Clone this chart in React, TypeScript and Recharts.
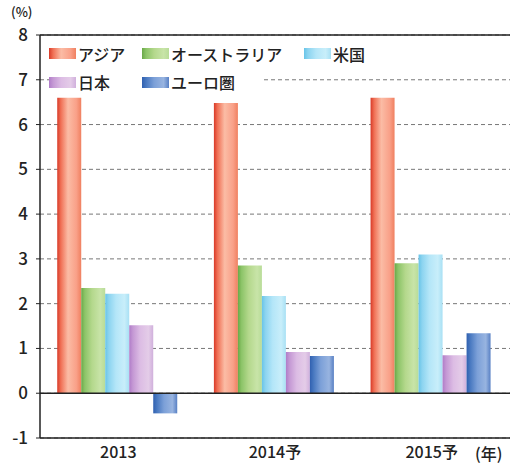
import React from "react";
import { BarChart, Bar, XAxis, YAxis, CartesianGrid, ReferenceLine } from "recharts";

const categories = ["2013", "2014予", "2015予"];
const asia = [6.6, 6.48, 6.6];
const australia = [2.35, 2.85, 2.9];
const us = [2.22, 2.17, 3.1];
const japan = [1.52, 0.92, 0.85];
const euro = [-0.45, 0.83, 1.34];
const yTicks = [-1, 0, 1, 2, 3, 4, 5, 6, 7, 8];

const series = [
  { key: "asia", name: "アジア", stops: ["#d83a28", "#f07055", "#fbbca5", "#f9a088", "#f08060"] },
  { key: "australia", name: "オーストラリア", stops: ["#6aa848", "#8cc468", "#b4d88c", "#c8e4a8", "#b8dc98"] },
  { key: "us", name: "米国", stops: ["#68c4e8", "#8cd4f0", "#b4e6f8", "#c8eefa", "#a8e0f4"] },
  { key: "japan", name: "日本", stops: ["#b07cc8", "#c498d4", "#dcbce4", "#e4cce8", "#d0b0dc"] },
  { key: "euro", name: "ユーロ圏", stops: ["#3060b0", "#4878c0", "#7ca0d8", "#98b4e0", "#5880c4"] },
];

const data = categories.map((c, i) => ({
  cat: c,
  asia: asia[i],
  australia: australia[i],
  us: us[i],
  japan: japan[i],
  euro: euro[i],
}));

const FONT = "'Noto Sans CJK JP', 'Noto Sans', sans-serif";

const Swatch = ({ id }: { id: string }) => (
  <svg width={27} height={11} style={{ verticalAlign: "middle" }}>
    <rect x={0} y={0} width={27} height={11} fill={`url(#g-${id})`} />
  </svg>
);

const LegendBox = () => {
  const item = (s: any, w: number) => (
    <span key={s.key} style={{ display: "inline-block", width: w, whiteSpace: "nowrap" }}>
      <Swatch id={s.key} />
      <span style={{ marginLeft: 2, verticalAlign: "middle" }}>{s.name}</span>
    </span>
  );
  return (
    <div style={{ position: "absolute", left: 49, top: 38, fontFamily: FONT, fontSize: 16, fontWeight: 500, color: "#222", lineHeight: "26px" }}>
      <div style={{ background: "#fff", display: "inline-block", whiteSpace: "nowrap" }}>
        {item(series[0], 93)}
        {item(series[1], 162)}
        {item(series[2], 70)}
      </div>
      <br />
      <div style={{ background: "#fff", display: "inline-block", width: 212, whiteSpace: "nowrap" }}>
        {item(series[3], 93)}
        {item(series[4], 110)}
      </div>
    </div>
  );
};

export default function App() {
  return (
    <div style={{ position: "fixed", left: 0, top: 0, width: 510, height: 467, background: "#fff", fontFamily: FONT }}>
      <BarChart
        width={510}
        height={467}
        data={data}
        margin={{ top: 35, right: 0, bottom: 0, left: 0 }}
        barCategoryGap="11%"
        barGap={0}
      >
        <defs>
          {series.map((s) => (
            <linearGradient key={s.key} id={`g-${s.key}`} x1="0" y1="0" x2="1" y2="0">
              <stop offset="0%" stopColor={s.stops[0]} />
              <stop offset="15%" stopColor={s.stops[1]} />
              <stop offset="45%" stopColor={s.stops[2]} />
              <stop offset="80%" stopColor={s.stops[3]} />
              <stop offset="100%" stopColor={s.stops[4]} />
            </linearGradient>
          ))}
        </defs>
        <CartesianGrid vertical={false} stroke="#777" strokeDasharray="4 3" />
        <XAxis
          dataKey="cat"
          height={29}
          tickLine={false}
          axisLine={{ stroke: "#222", strokeWidth: 1.5 }}
          tick={{ fill: "#222", fontSize: 16, fontWeight: 500, fontFamily: FONT }}
          tickMargin={3}
        />
        <YAxis
          width={40}
          domain={[-1, 8]}
          ticks={yTicks}
          interval={0}
          allowDataOverflow
          axisLine={{ stroke: "#222", strokeWidth: 1.5 }}
          tickLine={{ stroke: "#222" }}
          tickSize={4}
          tickMargin={8}
          tick={{ fill: "#222", fontSize: 17, fontWeight: 500, fontFamily: FONT }}
        />
        <ReferenceLine y={8} stroke="#222" strokeWidth={1.5} />
        <ReferenceLine y={0} stroke="#222" strokeWidth={1.5} />
        {series.map((s) => (
          <Bar key={s.key} dataKey={s.key} name={s.name} fill={`url(#g-${s.key})`} isAnimationActive={false} />
        ))}
      </BarChart>
      <div style={{ position: "absolute", left: 11, top: 4, fontSize: 13, lineHeight: "16px", fontWeight: 500, color: "#222" }}>(%)</div>
      <div style={{ position: "absolute", left: 475, top: 441, fontSize: 16, fontWeight: 500, color: "#222" }}>(年)</div>
      <LegendBox />
    </div>
  );
}
